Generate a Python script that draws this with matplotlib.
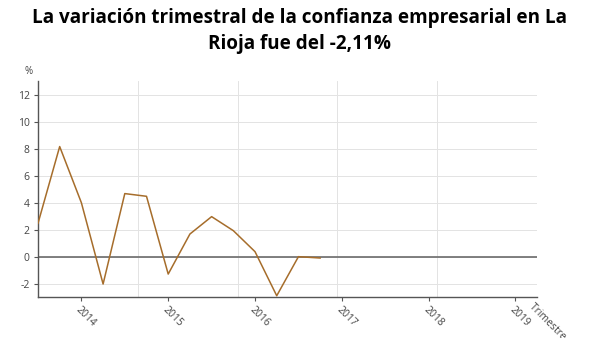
import matplotlib
matplotlib.use("Agg")
import matplotlib.pyplot as plt
from matplotlib.ticker import MultipleLocator

plt.rcParams['font.family'] = ['Open Sans', 'DejaVu Sans']
plt.rcParams['axes.unicode_minus'] = False

# quarterly index, 0 = 2013 Q3
quarters = list(range(14))
values = [2.47, 8.17, 4.0, -2.03, 4.68, 4.48, -1.29, 1.68, 2.97, 1.93, 0.37, -2.9, 0.0, -0.1]
year_labels = ['2014', '2015', '2016', '2017', '2018', '2019']
year_pos = [2, 6, 10, 14, 18, 22]

fig = plt.figure(figsize=(6, 3.38), dpi=100)
ax = fig.add_axes([0.0633, 0.121, 0.832, 0.638])

ax.plot(quarters, values, color='#a66d2b', lw=1.1, zorder=3)
ax.axhline(0, color='#6b6b6b', lw=1.2, zorder=2)

ax.set_xlim(0, 23)
ax.set_ylim(-3, 13)
ax.yaxis.set_major_locator(MultipleLocator(2))
ax.grid(axis='y', color='#e3e3e3', lw=0.7)
for f in [0.2, 0.4, 0.6, 0.8, 1.0]:
    ax.axvline(23 * f, color='#e3e3e3', lw=0.7, zorder=1)

ax.set_xticks(year_pos)
ax.set_xticklabels(year_labels, rotation=-45, ha='left', va='top',
                   rotation_mode='anchor', fontsize=7.5, color='#444444')
ax.tick_params(axis='x', length=3, color='#555555', pad=2)
ax.tick_params(axis='y', length=3, color='#555555', labelsize=7.5, labelcolor='#444444', pad=3)

for s in ['top', 'right']:
    ax.spines[s].set_visible(False)
for s in ['left', 'bottom']:
    ax.spines[s].set_color('#555555')
    ax.spines[s].set_linewidth(1.0)

ax.text(-0.01, 1.02, '%', transform=ax.transAxes, fontsize=7, color='#444444',
        ha='right', va='bottom')
ax.text(0.995, -0.02, 'Trimestre 1', transform=ax.transAxes, fontsize=7.5,
        color='#444444', rotation=-45, ha='left', va='top', rotation_mode='anchor')

fig.suptitle('La variación trimestral de la confianza empresarial en La\nRioja fue del -2,11%',
             fontsize=13.6, fontweight='bold', y=0.975, linespacing=1.4)

fig.savefig('out.png', dpi=100)
